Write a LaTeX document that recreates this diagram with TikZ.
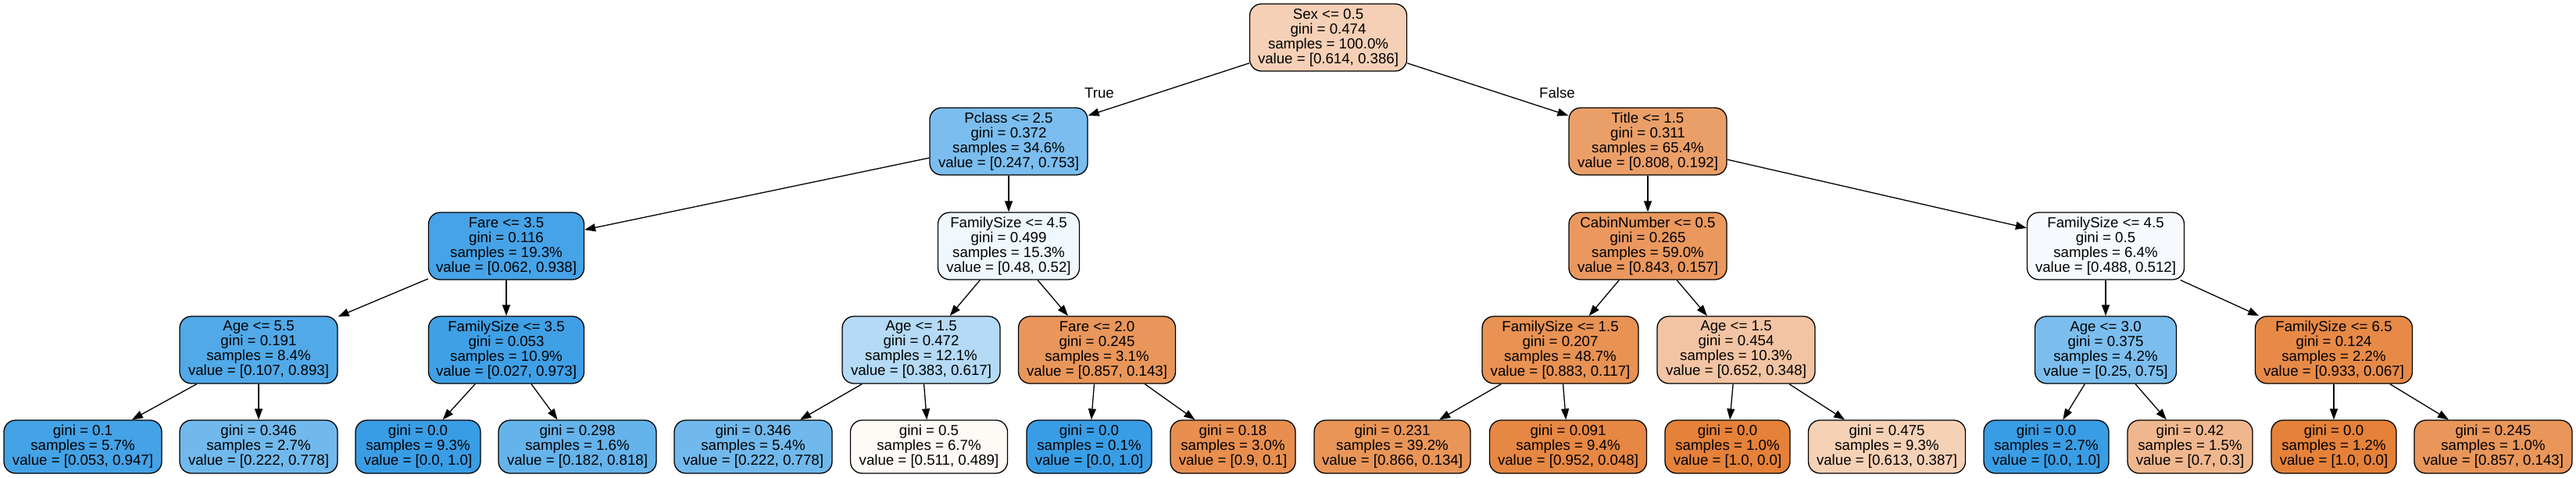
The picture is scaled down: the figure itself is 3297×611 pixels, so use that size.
\documentclass[tikz,border=0pt]{standalone}
\usepackage{fontspec}
\setmainfont{Liberation Sans}
\usetikzlibrary{arrows.meta}
\definecolor{cA}{RGB}{229,129,57}
\definecolor{cB}{RGB}{57,157,229}
\begin{document}
\begin{tikzpicture}[x=0.5pt,y=-0.5pt,
  tn/.style={draw=black, line width=0.65pt, rounded corners=7.5pt, align=center, inner sep=0pt,
             font=\fontsize{9.33}{9.5}\selectfont},
  inn/.style={tn, minimum height=43pt},
  lf/.style={tn, minimum height=34pt},
  lbl/.style={inner sep=0pt, font=\fontsize{9.33}{9.5}\selectfont},
  conn/.style={-{Triangle[length=7pt,width=5pt]}, line width=0.65pt}]
\fill[white] (0,0) rectangle (3297,611);
\useasboundingbox (0,0) rectangle (3297,611);
% level 0
\node[inn, minimum width=100.5pt, fill=cA!37.1!white] (root) at (1700,48) {Sex <= 0.5\\gini = 0.474\\samples = 100.0\%\\value = [0.614, 0.386]};
% level 1
\node[inn, minimum width=101pt, fill=cB!67.2!white] (pclass) at (1291,181) {Pclass <= 2.5\\gini = 0.372\\samples = 34.6\%\\value = [0.247, 0.753]};
\node[inn, minimum width=101pt, fill=cA!76.2!white] (title) at (2109,181) {Title <= 1.5\\gini = 0.311\\samples = 65.4\%\\value = [0.808, 0.192]};
% level 2
\node[inn, minimum width=99.5pt, fill=cB!93.4!white] (fare35) at (648,315) {Fare <= 3.5\\gini = 0.116\\samples = 19.3\%\\value = [0.062, 0.938]};
\node[inn, minimum width=90.5pt, fill=cB!7.7!white] (fs45a) at (1291,315) {FamilySize <= 4.5\\gini = 0.499\\samples = 15.3\%\\value = [0.48, 0.52]};
\node[inn, minimum width=101pt, fill=cA!81.4!white] (cabin) at (2109,315) {CabinNumber <= 0.5\\gini = 0.265\\samples = 59.0\%\\value = [0.843, 0.157]};
\node[inn, minimum width=100.5pt, fill=cB!4.7!white] (fs45b) at (2695,315) {FamilySize <= 4.5\\gini = 0.5\\samples = 6.4\%\\value = [0.488, 0.512]};
% level 3
\node[inn, minimum width=101pt, fill=cB!88.0!white] (age55) at (331,448) {Age <= 5.5\\gini = 0.191\\samples = 8.4\%\\value = [0.107, 0.893]};
\node[inn, minimum width=99.5pt, fill=cB!97.2!white] (fs35) at (648,448) {FamilySize <= 3.5\\gini = 0.053\\samples = 10.9\%\\value = [0.027, 0.973]};
\node[inn, minimum width=101pt, fill=cB!37.9!white] (age15a) at (1179,448) {Age <= 1.5\\gini = 0.472\\samples = 12.1\%\\value = [0.383, 0.617]};
\node[inn, minimum width=100.5pt, fill=cA!83.3!white] (fare20) at (1404,448) {Fare <= 2.0\\gini = 0.245\\samples = 3.1\%\\value = [0.857, 0.143]};
\node[inn, minimum width=100pt, fill=cA!86.7!white] (fs15) at (1997,448) {FamilySize <= 1.5\\gini = 0.207\\samples = 48.7\%\\value = [0.883, 0.117]};
\node[inn, minimum width=101pt, fill=cA!46.6!white] (age15b) at (2222,448) {Age <= 1.5\\gini = 0.454\\samples = 10.3\%\\value = [0.652, 0.348]};
\node[inn, minimum width=90.5pt, fill=cB!66.7!white] (age30) at (2695,448) {Age <= 3.0\\gini = 0.375\\samples = 4.2\%\\value = [0.25, 0.75]};
\node[inn, minimum width=100.5pt, fill=cA!92.8!white] (fs65) at (2987,448) {FamilySize <= 6.5\\gini = 0.124\\samples = 2.2\%\\value = [0.933, 0.067]};
% level 4 (leaves)
\node[lf, minimum width=101pt, fill=cB!94.4!white] (l1) at (106,572) {gini = 0.1\\samples = 5.7\%\\value = [0.053, 0.947]};
\node[lf, minimum width=101pt, fill=cB!71.5!white] (l2) at (331,572) {gini = 0.346\\samples = 2.7\%\\value = [0.222, 0.778]};
\node[lf, minimum width=80pt, fill=cB] (l3) at (535,572) {gini = 0.0\\samples = 9.3\%\\value = [0.0, 1.0]};
\node[lf, minimum width=101pt, fill=cB!77.8!white] (l4) at (739,572) {gini = 0.298\\samples = 1.6\%\\value = [0.182, 0.818]};
\node[lf, minimum width=101pt, fill=cB!71.5!white] (l5) at (964,572) {gini = 0.346\\samples = 5.4\%\\value = [0.222, 0.778]};
\node[lf, minimum width=100.5pt, fill=cA!4.3!white] (l6) at (1189,572) {gini = 0.5\\samples = 6.7\%\\value = [0.511, 0.489]};
\node[lf, minimum width=80pt, fill=cB] (l7) at (1394,572) {gini = 0.0\\samples = 0.1\%\\value = [0.0, 1.0]};
\node[lf, minimum width=80pt, fill=cA!88.9!white] (l8) at (1578,572) {gini = 0.18\\samples = 3.0\%\\value = [0.9, 0.1]};
\node[lf, minimum width=100pt, fill=cA!84.5!white] (l9) at (1782,572) {gini = 0.231\\samples = 39.2\%\\value = [0.866, 0.134]};
\node[lf, minimum width=100.5pt, fill=cA!95.0!white] (l10) at (2007,572) {gini = 0.091\\samples = 9.4\%\\value = [0.952, 0.048]};
\node[lf, minimum width=80pt, fill=cA] (l11) at (2211,572) {gini = 0.0\\samples = 1.0\%\\value = [1.0, 0.0]};
\node[lf, minimum width=100.5pt, fill=cA!36.9!white] (l12) at (2415,572) {gini = 0.475\\samples = 9.3\%\\value = [0.613, 0.387]};
\node[lf, minimum width=80pt, fill=cB] (l13) at (2619,572) {gini = 0.0\\samples = 2.7\%\\value = [0.0, 1.0]};
\node[lf, minimum width=80pt, fill=cA!57.1!white] (l14) at (2803,572) {gini = 0.42\\samples = 1.5\%\\value = [0.7, 0.3]};
\node[lf, minimum width=80pt, fill=cA] (l15) at (2987,572) {gini = 0.0\\samples = 1.2\%\\value = [1.0, 0.0]};
\node[lf, minimum width=101pt, fill=cA!83.3!white] (l16) at (3191,572) {gini = 0.245\\samples = 1.0\%\\value = [0.857, 0.143]};
% edge labels
\node[lbl] (ltrue) at (1407,119) {True};
\node[lbl] (lfalse) at (1993,119) {False};
% connectors
\draw[conn] (root) -- (pclass);
\draw[conn] (root) -- (title);
\draw[conn] (pclass) -- (fare35);
\draw[conn] (pclass) -- (fs45a);
\draw[conn] (title) -- (cabin);
\draw[conn] (title) -- (fs45b);
\draw[conn] (fare35) -- (age55);
\draw[conn] (fare35) -- (fs35);
\draw[conn] (fs45a) -- (age15a);
\draw[conn] (fs45a) -- (fare20);
\draw[conn] (cabin) -- (fs15);
\draw[conn] (cabin) -- (age15b);
\draw[conn] (fs45b) -- (age30);
\draw[conn] (fs45b) -- (fs65);
\draw[conn] (age55) -- (l1);
\draw[conn] (age55) -- (l2);
\draw[conn] (fs35) -- (l3);
\draw[conn] (fs35) -- (l4);
\draw[conn] (age15a) -- (l5);
\draw[conn] (age15a) -- (l6);
\draw[conn] (fare20) -- (l7);
\draw[conn] (fare20) -- (l8);
\draw[conn] (fs15) -- (l9);
\draw[conn] (fs15) -- (l10);
\draw[conn] (age15b) -- (l11);
\draw[conn] (age15b) -- (l12);
\draw[conn] (age30) -- (l13);
\draw[conn] (age30) -- (l14);
\draw[conn] (fs65) -- (l15);
\draw[conn] (fs65) -- (l16);
\end{tikzpicture}
\end{document}
